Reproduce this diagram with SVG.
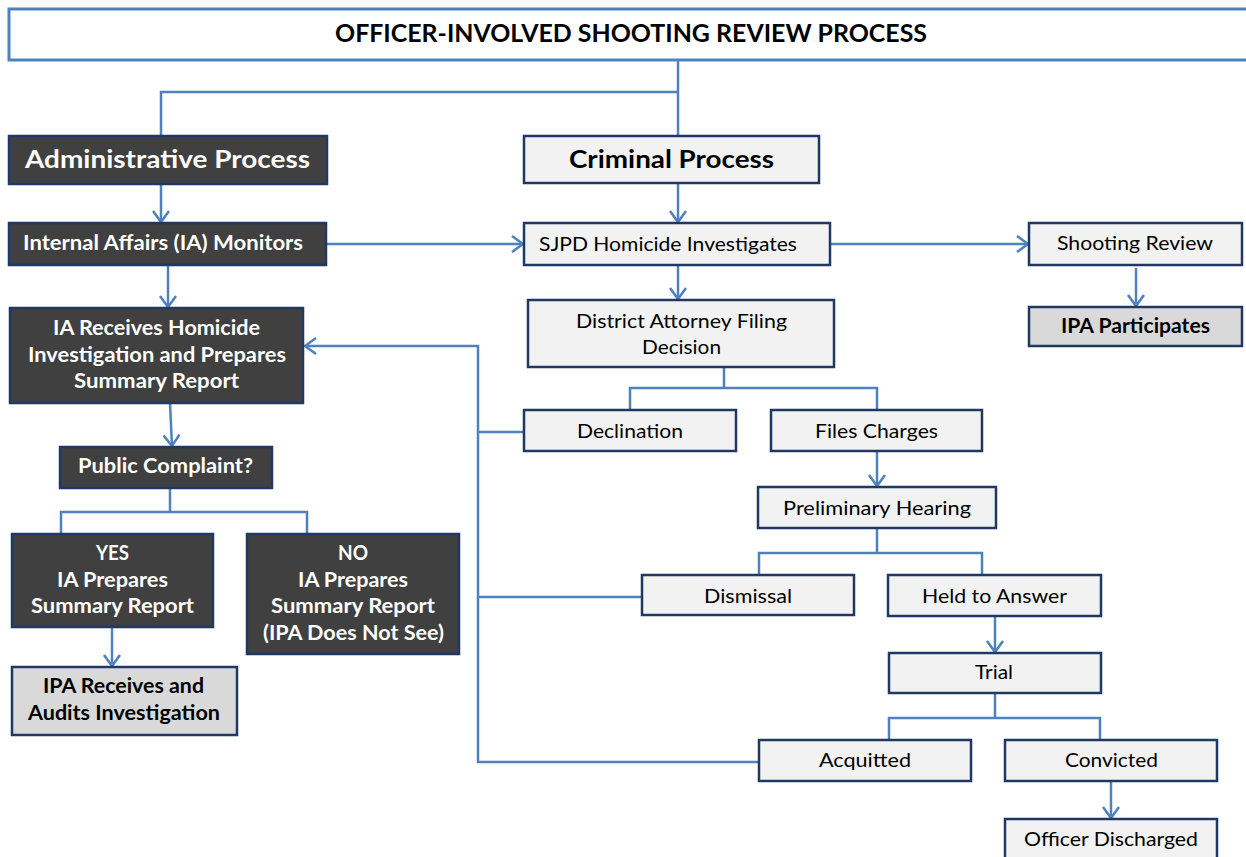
<svg xmlns="http://www.w3.org/2000/svg" width="1246" height="857" viewBox="0 0 1246 857">
<style>
.dark{fill:#404040;stroke:#1f3864;stroke-width:2.5}
.light{fill:#f2f2f2;stroke:#1f3864;stroke-width:2.5}
.grey{fill:#d9d9d9;stroke:#1f3864;stroke-width:2.5}
.ttl{fill:#ffffff;stroke:#4f81bd;stroke-width:3}
text{font-family:Lato,"Open Sans","Liberation Sans",sans-serif;text-anchor:middle}
.w{fill:#ffffff;font-weight:bold;font-size:20px}
.b{fill:#000000;font-weight:bold;font-size:20px}
.n{fill:#000000;font-size:20px}
.big{font-size:25px}
.head{font-size:24px}
.conn path{fill:none;stroke:#4f81bd;stroke-width:2.5}
</style>
<defs>
<marker id="arr" markerUnits="userSpaceOnUse" markerWidth="16" markerHeight="18" refX="13" refY="9" orient="auto">
<path d="M2,1 L13,9 L2,17" fill="none" stroke="#4f81bd" stroke-width="2.5"/>
</marker>
</defs>

<g id="connectors" class="conn">
<path d="M678,60 V136"/>
<path d="M678,92 H161 V136"/>
<path d="M161,184 V222" marker-end="url(#arr)"/>
<path d="M678,183 V222" marker-end="url(#arr)"/>
<path d="M327,244 H523" marker-end="url(#arr)"/>
<path d="M830,244 H1028" marker-end="url(#arr)"/>
<path d="M1136,268 V306" marker-end="url(#arr)"/>
<path d="M678,265 V299" marker-end="url(#arr)"/>
<path d="M724,367 V388 M630,410 V388 H877 V410"/>
<path d="M877,451 V486" marker-end="url(#arr)"/>
<path d="M877,528 V553 M759,575 V553 H982 V575"/>
<path d="M995,616 V652" marker-end="url(#arr)"/>
<path d="M995,693 V718 M889,740 V718 H1100 V740"/>
<path d="M1111,781 V818" marker-end="url(#arr)"/>
<path d="M524,432 H478 M642,597 H478"/>
<path d="M759,762 H478 V346 H305" marker-end="url(#arr)"/>
<path d="M168,265 V307" marker-end="url(#arr)"/>
<path d="M170,403 L172,446" marker-end="url(#arr)"/>
<path d="M170,487 V512 M61,534 V512 H307 V534"/>
<path d="M112,627 V666" marker-end="url(#arr)"/>
</g>

<g id="title"><rect class="ttl" x="9" y="9" width="1250" height="51"/>
<text class="b head" x="631" y="42" textLength="592" lengthAdjust="spacingAndGlyphs">OFFICER-INVOLVED SHOOTING REVIEW PROCESS</text></g>

<g id="admin"><rect class="dark" x="9" y="136" width="318" height="48"/>
<text class="w big" x="167.5" y="168" textLength="285" lengthAdjust="spacingAndGlyphs">Administrative Process</text></g>

<g id="criminal"><rect class="light" x="524" y="136" width="295" height="47"/>
<text class="b big" x="671.5" y="168" textLength="205" lengthAdjust="spacingAndGlyphs">Criminal Process</text></g>

<g id="ia-monitors"><rect class="dark" x="9" y="223" width="317" height="42"/>
<text class="w" x="163" y="250" textLength="280" lengthAdjust="spacingAndGlyphs">Internal Affairs (IA) Monitors</text></g>

<g id="sjpd"><rect class="light" x="524" y="223" width="306" height="42"/>
<text class="n" x="668" y="251" textLength="258" lengthAdjust="spacingAndGlyphs">SJPD Homicide Investigates</text></g>

<g id="shooting-review"><rect class="light" x="1029" y="223" width="213" height="42"/>
<text class="n" x="1135" y="250" textLength="156" lengthAdjust="spacingAndGlyphs">Shooting Review</text></g>

<g id="ipa-participates"><rect class="grey" x="1029" y="307" width="213" height="39"/>
<text class="b" x="1135.5" y="333" textLength="149" lengthAdjust="spacingAndGlyphs">IPA Participates</text></g>

<g id="ia-receives"><rect class="dark" x="10" y="308" width="293" height="95"/>
<text class="w" x="156.5" y="335" textLength="207" lengthAdjust="spacingAndGlyphs">IA Receives Homicide</text>
<text class="w" x="157" y="362" textLength="258" lengthAdjust="spacingAndGlyphs">Investigation and Prepares</text>
<text class="w" x="156.5" y="388" textLength="165" lengthAdjust="spacingAndGlyphs">Summary Report</text></g>

<g id="da"><rect class="light" x="528" y="300" width="306" height="67"/>
<text class="n" x="681.5" y="328" textLength="211" lengthAdjust="spacingAndGlyphs">District Attorney Filing</text>
<text class="n" x="681.5" y="354" textLength="79" lengthAdjust="spacingAndGlyphs">Decision</text></g>

<g id="declination"><rect class="light" x="524" y="410" width="212" height="41"/>
<text class="n" x="630" y="438" textLength="106" lengthAdjust="spacingAndGlyphs">Declination</text></g>

<g id="files-charges"><rect class="light" x="771" y="410" width="211" height="41"/>
<text class="n" x="876.5" y="438" textLength="123" lengthAdjust="spacingAndGlyphs">Files Charges</text></g>

<g id="public-complaint"><rect class="dark" x="60" y="447" width="212" height="41"/>
<text class="w" x="165.5" y="473" textLength="175" lengthAdjust="spacingAndGlyphs">Public Complaint?</text></g>

<g id="prelim"><rect class="light" x="758" y="487" width="238" height="41"/>
<text class="n" x="877" y="515" textLength="188" lengthAdjust="spacingAndGlyphs">Preliminary Hearing</text></g>

<g id="yes"><rect class="dark" x="12" y="534" width="201" height="93"/>
<text class="w" x="112.5" y="560" textLength="33" lengthAdjust="spacingAndGlyphs">YES</text>
<text class="w" x="112.5" y="587" textLength="111" lengthAdjust="spacingAndGlyphs">IA Prepares</text>
<text class="w" x="112.5" y="613" textLength="163" lengthAdjust="spacingAndGlyphs">Summary Report</text></g>

<g id="no"><rect class="dark" x="247" y="534" width="212" height="120"/>
<text class="w" x="353" y="560" textLength="30" lengthAdjust="spacingAndGlyphs">NO</text>
<text class="w" x="353" y="587" textLength="110" lengthAdjust="spacingAndGlyphs">IA Prepares</text>
<text class="w" x="353" y="613" textLength="164" lengthAdjust="spacingAndGlyphs">Summary Report</text>
<text class="w" x="353.5" y="640" textLength="181" lengthAdjust="spacingAndGlyphs">(IPA Does Not See)</text></g>

<g id="dismissal"><rect class="light" x="642" y="575" width="212" height="40"/>
<text class="n" x="748" y="603" textLength="88" lengthAdjust="spacingAndGlyphs">Dismissal</text></g>

<g id="held"><rect class="light" x="888" y="575" width="213" height="41"/>
<text class="n" x="994.5" y="603" textLength="145" lengthAdjust="spacingAndGlyphs">Held to Answer</text></g>

<g id="ipa-receives"><rect class="grey" x="12" y="667" width="225" height="68"/>
<text class="b" x="123.5" y="693" textLength="161" lengthAdjust="spacingAndGlyphs">IPA Receives and</text>
<text class="b" x="124" y="720" textLength="192" lengthAdjust="spacingAndGlyphs">Audits Investigation</text></g>

<g id="trial"><rect class="light" x="889" y="653" width="212" height="40"/>
<text class="n" x="994" y="679" textLength="38" lengthAdjust="spacingAndGlyphs">Trial</text></g>

<g id="acquitted"><rect class="light" x="759" y="740" width="212" height="41"/>
<text class="n" x="865" y="767" textLength="92" lengthAdjust="spacingAndGlyphs">Acquitted</text></g>

<g id="convicted"><rect class="light" x="1005" y="740" width="212" height="41"/>
<text class="n" x="1111.5" y="767" textLength="93" lengthAdjust="spacingAndGlyphs">Convicted</text></g>

<g id="officer-discharged"><rect class="light" x="1005" y="819" width="212" height="45"/>
<text class="n" x="1111" y="846" textLength="174" lengthAdjust="spacingAndGlyphs">Officer Discharged</text></g>
</svg>
